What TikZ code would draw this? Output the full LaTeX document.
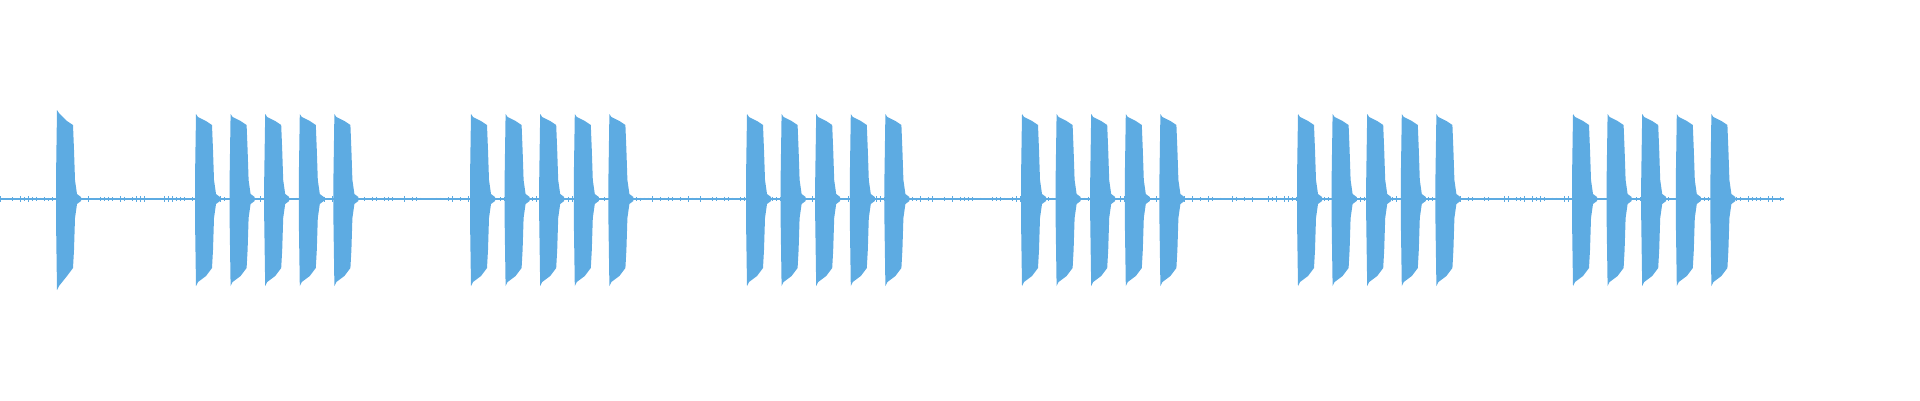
\documentclass[tikz,border=0pt]{standalone}
\definecolor{wave}{RGB}{93,171,226}
\begin{document}
\begin{tikzpicture}[x=1pt,y=-1pt]
\useasboundingbox (0,0) rectangle (1920,400);
\newcommand{\burst}[2]{% #1 = x, #2 = extra height
  \fill[wave] (#1-1,180) -- (#1,{114-#2}) -- (#1+2,{117-#2}) -- (#1+10,121) -- (#1+16,125) -- (#1+17,150) -- (#1+18,180) -- (#1+20,194) -- (#1+24,197) -- (#1+24,201) -- (#1+20,204) -- (#1+18,218) -- (#1+17,250) -- (#1+16,268) -- (#1+10,276) -- (#1+2,{282+#2}) -- (#1,{286+#2}) -- (#1-1,218) -- cycle;}
\draw[wave,line width=1.6pt] (0,199) -- (1784,199);
\pgfmathsetseed{7}
\foreach \i in {0,4,...,1782}{
  \pgfmathsetmacro{\h}{0.5+2.5*rnd}
  \draw[wave,line width=0.8pt] (\i,199-\h) -- (\i,199+\h);
}
\burst{57}{4}
\foreach \g in {196,471,747,1022,1298,1573}{
  \foreach \k in {0,1,2,3,4}{
    \burst{\g+34.6*\k}{0}
  }
}
\end{tikzpicture}
\end{document}
